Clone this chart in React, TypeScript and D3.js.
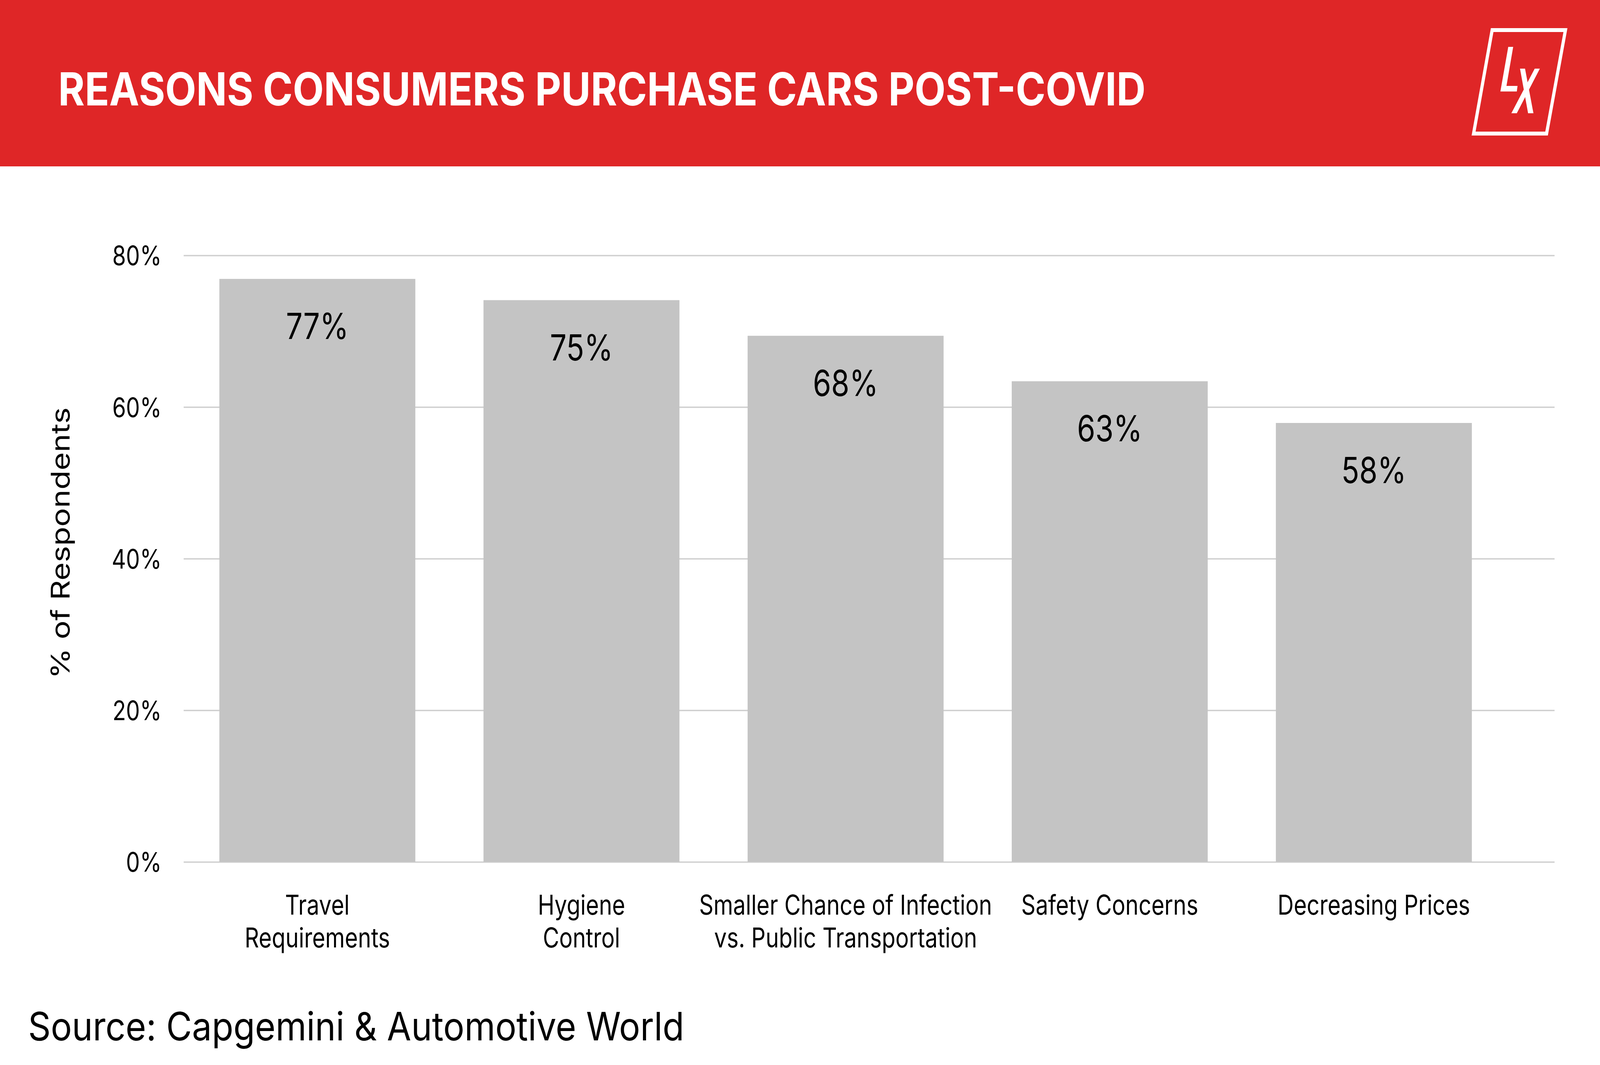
import { useEffect, useRef } from "react";
import * as d3 from "d3";

// chart data
const categories = [
  ["Travel", "Requirements"],
  ["Hygiene", "Control"],
  ["Smaller Chance of Infection", "vs. Public Transportation"],
  ["Safety Concerns"],
  ["Decreasing Prices"],
];
const values = [76.9, 74.1, 69.4, 63.4, 57.9];
const valueLabels = ["77%", "75%", "68%", "63%", "58%"];
const yTicks = [0, 20, 40, 60, 80];

const title = "REASONS CONSUMERS PURCHASE CARS POST-COVID";
const yLabel = "% of Respondents";
const source = "Source: Capgemini & Automotive World";

const FONT = "Inter, 'Noto Sans', sans-serif";
const RED = "#df2627";

export default function App() {
  const ref = useRef<SVGSVGElement>(null);

  useEffect(() => {
    document.body.style.margin = "0";
    if (!ref.current) return;
    const W = 5000;
    const H = 2727;

    d3.select(ref.current).selectAll("*").remove();
    // drawn in 5000x2727 units, stretched to whatever the window gives
    const svg = d3.select(ref.current).attr("viewBox", `0 0 ${W} ${H}`);

    svg.append("rect").attr("width", W).attr("height", H).attr("fill", "#fff");

    // header band
    svg.append("rect").attr("width", W).attr("height", 426).attr("fill", RED);
    svg
      .append("text")
      .attr("x", 182)
      .attr("y", 270)
      .attr("fill", "#fff")
      .attr("font-family", FONT)
      .attr("font-weight", 700)
      .attr("font-size", 117)
      .attr("textLength", 3398)
      .attr("lengthAdjust", "spacingAndGlyphs")
      .text(title);

    // logo
    const logo = svg.append("g").attr("transform", "translate(4500,0)");
    logo
      .append("polygon")
      .attr("points", "163,77 392,77 333,342 105,342")
      .attr("fill", "none")
      .attr("stroke", "#fff")
      .attr("stroke-width", 10);
    logo
      .append("polygon")
      .attr("points", "213.3,120 228.7,120 207.7,220 242.3,220 240,234.3 188.7,234.3")
      .attr("fill", "#fff");
    logo
      .append("polygon")
      .attr("points", "250,175.7 265.7,175.7 292,290 275.3,290")
      .attr("fill", "#fff");
    logo
      .append("polygon")
      .attr("points", "296,175.7 312,175.7 240,290 223,290")
      .attr("fill", "#fff");

    // scales
    const gridLeft = 574;
    const gridRight = 4858;
    const y = d3.scaleLinear().domain([0, 80]).range([2207, 654]);
    const x = d3
      .scaleBand<number>()
      .domain(d3.range(categories.length))
      .range([579, 4706])
      .paddingInner(0.258)
      .paddingOuter(0.129);

    // y axis with gridlines
    const yAxis = svg
      .append("g")
      .attr("transform", `translate(${gridLeft},0)`)
      .call(
        d3
          .axisLeft(y)
          .tickValues(yTicks)
          .tickFormat((d) => `${d}%`)
          .tickSizeInner(-(gridRight - gridLeft))
          .tickSizeOuter(0)
          .tickPadding(69)
      );
    yAxis.select(".domain").remove();
    yAxis.selectAll(".tick line").attr("stroke", "#cfcfcf").attr("stroke-width", 3.5);
    yAxis
      .selectAll(".tick text")
      .attr("fill", "#000")
      .attr("font-family", FONT)
      .attr("font-size", 69)
      .attr("dy", "0.36em");

    // bars
    svg
      .append("g")
      .selectAll("rect")
      .data(values)
      .join("rect")
      .attr("x", (_, i) => x(i)!)
      .attr("width", x.bandwidth())
      .attr("y", (d) => y(d))
      .attr("height", (d) => y(0) - y(d))
      .attr("fill", "#c4c4c4");

    // value labels
    svg
      .append("g")
      .selectAll("text")
      .data(values)
      .join("text")
      .attr("x", (_, i) => x(i)! + x.bandwidth() / 2)
      .attr("y", (d) => y(d) + 154)
      .attr("text-anchor", "middle")
      .attr("font-family", FONT)
      .attr("font-size", 92)
      .attr("fill", "#000")
      .text((_, i) => valueLabels[i]);

    // category labels
    const cat = svg
      .append("g")
      .selectAll("text")
      .data(categories)
      .join("text")
      .attr("x", (_, i) => x(i)! + x.bandwidth() / 2)
      .attr("y", 2342)
      .attr("text-anchor", "middle")
      .attr("font-family", FONT)
      .attr("font-size", 70)
      .attr("fill", "#000");
    cat
      .selectAll("tspan")
      .data((d) => d)
      .join("tspan")
      .attr("x", function () {
        return (this.parentNode as SVGTextElement).getAttribute("x");
      })
      .attr("dy", (_, j) => (j === 0 ? 0 : 84))
      .text((d) => d);

    // y axis title
    svg
      .append("text")
      .attr("transform", `translate(217,${(y(0) + y(80)) / 2 - 40}) rotate(-90)`)
      .attr("text-anchor", "middle")
      .attr("font-family", FONT)
      .attr("font-size", 80)
      .attr("fill", "#000")
      .text(yLabel);

    // source
    svg
      .append("text")
      .attr("x", 88)
      .attr("y", 2664)
      .attr("font-family", FONT)
      .attr("font-size", 100)
      .attr("fill", "#000")
      .attr("textLength", 2050)
      .attr("lengthAdjust", "spacingAndGlyphs")
      .text(source);
  }, []);

  return (
    <svg
      ref={ref}
      style={{ display: "block", width: "100vw", height: "100vh" }}
      preserveAspectRatio="none"
    />
  );
}
